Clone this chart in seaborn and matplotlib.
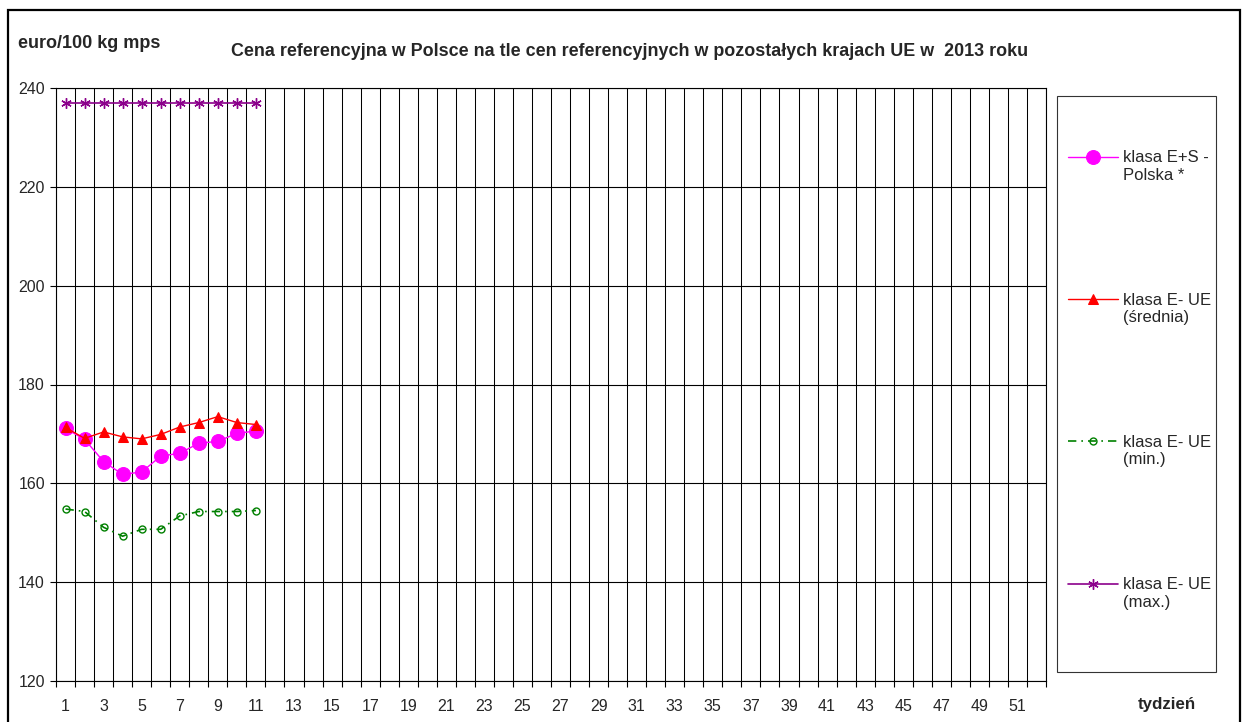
import numpy as np
import pandas as pd
import matplotlib
matplotlib.use('Agg')
import matplotlib.pyplot as plt
from matplotlib.patches import Rectangle
from matplotlib.legend_handler import HandlerLine2D
from matplotlib.transforms import Affine2D
import seaborn as sns

# week numbers and prices (euro/100 kg mps)
weeks = list(range(1, 12))
polska = [171.1, 168.9, 164.4, 161.8, 162.3, 165.5, 166.1, 168.1, 168.5, 170.1, 170.6]
ue_avg = [171.3, 169.1, 170.4, 169.4, 169.0, 169.9, 171.4, 172.3, 173.5, 172.3, 171.9]
ue_min = [154.8, 154.3, 151.1, 149.3, 150.7, 150.7, 153.4, 154.3, 154.3, 154.3, 154.5]
ue_max = [237.0] * 11

labels = ['klasa E+S -\nPolska *', 'klasa E- UE\n(średnia)',
          'klasa E- UE\n(min.)', 'klasa E- UE\n(max.)']
n_weeks = 52
odd_weeks = list(range(1, n_weeks + 1, 2))
y_ticks = [120, 140, 160, 180, 200, 220, 240]


class FirstLineHandler(HandlerLine2D):
    # put the legend line next to the first text line, like Excel does
    def create_artists(self, legend, orig_handle, xdescent, ydescent,
                       width, height, fontsize, trans):
        trans = trans + Affine2D().translate(0, 10)
        return super().create_artists(legend, orig_handle, xdescent, ydescent,
                                      width, height, fontsize, trans)


sns.set_style('white')
plt.rcParams['font.family'] = ['Liberation Sans', 'DejaVu Sans']

fig = plt.figure(figsize=(12.46, 7.22), dpi=100)
ax = fig.add_axes([56 / 1246, 1 - 681 / 722, 990 / 1246, 593 / 722])

df = pd.DataFrame({'week': weeks, 'pl': polska, 'avg': ue_avg,
                   'min': ue_min, 'max': ue_max})

sns.lineplot(data=df, x='week', y='pl', ax=ax, color='#FF00FF', lw=1,
             marker='o', markersize=10, markeredgecolor='#FF00FF',
             label=labels[0])
sns.lineplot(data=df, x='week', y='avg', ax=ax, color='#FF0000', lw=1,
             marker='^', markersize=7, markeredgecolor='#FF0000',
             label=labels[1])
sns.lineplot(data=df, x='week', y='min', ax=ax, color='#008000', lw=1.2,
             linestyle=(0, (5, 3, 1, 3)), marker='o', markersize=5,
             markerfacecolor='none', markeredgecolor='#008000',
             markeredgewidth=1, label=labels[2])
sns.lineplot(data=df, x='week', y='max', ax=ax, color='#8B008B', lw=1.2,
             marker=(6, 2, 0), markersize=7.5, markeredgecolor='#8B008B',
             markeredgewidth=1.0, label=labels[3])

ax.set_xlim(0.5, n_weeks + 0.5)
ax.set_ylim(120, 240)

# week boundaries as minor ticks + vertical grid
ax.set_xticks(np.arange(0.5, n_weeks + 1, 1), minor=True)
ax.set_xticks(odd_weeks)
ax.set_xticklabels([str(w) for w in odd_weeks])
ax.tick_params(axis='x', which='major', length=0, pad=13, labelsize=11.5)
ax.tick_params(axis='x', which='minor', length=4, width=0.8, color='black',
               direction='out', bottom=True)
ax.set_yticks(y_ticks)
ax.tick_params(axis='y', length=4, width=0.8, color='black', pad=4,
               labelsize=11.5, direction='out', left=True)
ax.grid(True, axis='x', which='minor', color='black', lw=0.75)
ax.grid(True, axis='y', which='major', color='black', lw=0.8)
ax.grid(False, axis='x', which='major')
ax.set_axisbelow(True)
for s in ax.spines.values():
    s.set_color('black')
    s.set_linewidth(0.8)
ax.set_xlabel('')
ax.set_ylabel('')

ax.legend_.remove()
handles, _ = ax.get_legend_handles_labels()
fig.add_artist(Rectangle((1057 / 1246, 1 - 672 / 722), 159 / 1246, 576 / 722,
                         transform=fig.transFigure, fill=False,
                         edgecolor='#333333', lw=0.8))
fig.legend(handles, labels, loc='center left',
           bbox_to_anchor=(1068 / 1246, 1 - 380 / 722), frameon=False,
           fontsize=12, labelspacing=6.6, handlelength=3.0,
           handletextpad=0.3, borderpad=0, borderaxespad=0,
           handler_map={h: FirstLineHandler() for h in handles})

fig.text(630 / 1246, 1 - 52 / 722,
         'Cena referencyjna w Polsce na tle cen referencyjnych w pozostałych krajach UE w  2013 roku',
         ha='center', va='center', fontsize=12.9, fontweight='bold')
fig.text(18 / 1246, 1 - 44 / 722, 'euro/100 kg mps', ha='left', va='center',
         fontsize=13, fontweight='bold')
fig.text(1167 / 1246, 1 - 705 / 722, 'tydzień', ha='center', va='center',
         fontsize=12.2, fontweight='bold')

# outer frame of the chart area
fig.add_artist(Rectangle((8 / 1246, -0.02), 1232 / 1246, 1 - 10 / 722 + 0.02,
                         transform=fig.transFigure, fill=False,
                         edgecolor='black', lw=1.6))

fig.savefig('out.png', dpi=100)
